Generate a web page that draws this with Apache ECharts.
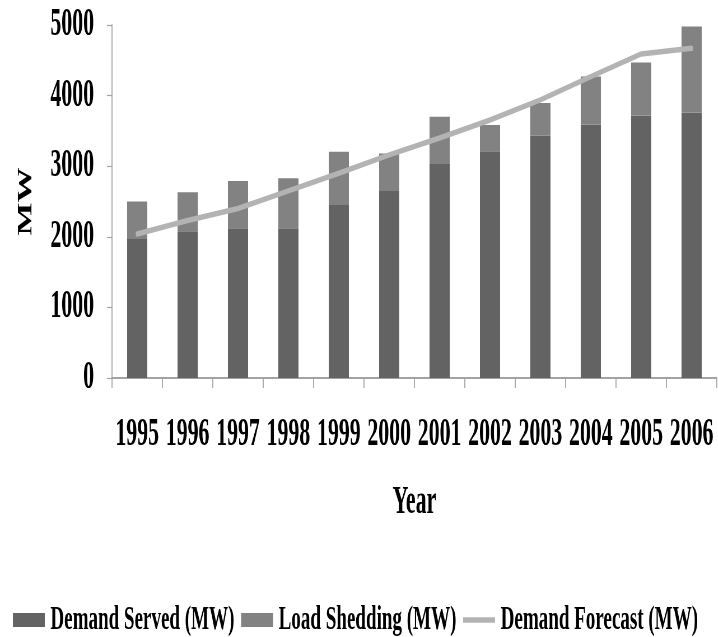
<!DOCTYPE html>
<html>
<head>
<meta charset="utf-8">
<script src="https://cdn.jsdelivr.net/npm/echarts@6/dist/echarts.min.js"></script>
<style>
  html, body { margin: 0; padding: 0; overflow: hidden; background: #fff; }
  /* The chart is laid out on a wider canvas and squeezed horizontally,
     giving the narrow, tall lettering of the printed figure. */
  #chart { width: 1282px; height: 637px; transform: scaleX(0.56); transform-origin: 0 0; }
</style>
</head>
<body>
<div id="chart"></div>
<script>
const years = ['1995', '1996', '1997', '1998', '1999', '2000', '2001', '2002', '2003', '2004', '2005', '2006'];
const demandServed = [1970, 2080, 2120, 2120, 2450, 2650, 3030, 3210, 3430, 3590, 3715, 3760];
const loadShedding = [530, 550, 670, 710, 755, 530, 670, 375, 465, 680, 755, 1220];
const demandForecast = [2040, 2230, 2400, 2650, 2900, 3160, 3400, 3655, 3940, 4270, 4590, 4670];
const yTicks = { min: 0, max: 5000, interval: 1000 };

const FONT = 'Liberation Serif';
const AXIS_GREY = '#a3a3a3';

const chart = echarts.init(document.getElementById('chart'), null, { renderer: 'canvas' });

chart.setOption({
  backgroundColor: '#ffffff',
  animation: false,
  textStyle: { fontFamily: FONT, color: '#000' },
  grid: { left: 200, right: 2, top: 25, bottom: 259, containLabel: false },
  legend: {
    left: 23,
    top: 603,
    padding: 0,
    itemGap: 12,
    itemWidth: 57,
    itemHeight: 14,
    textStyle: { fontFamily: FONT, fontSize: 34, fontWeight: 'bold', color: '#000', padding: [0, 0, 0, 5] },
    data: [
      { name: 'Demand Served (MW)', icon: 'rect' },
      { name: 'Load Shedding (MW)', icon: 'rect' },
      { name: 'Demand Forecast (MW)', icon: 'path://M0,0 L60,0 L60,6 L0,6 Z' }
    ]
  },
  xAxis: {
    type: 'category',
    data: years,
    name: 'Year',
    nameLocation: 'middle',
    nameGap: 105,
    nameTextStyle: { fontFamily: FONT, fontSize: 39, fontWeight: 'bold', color: '#000' },
    axisLine: { show: true, lineStyle: { color: AXIS_GREY, width: 1.8 } },
    axisTick: { show: true, length: 10, lineStyle: { color: AXIS_GREY, width: 1.8 } },
    axisLabel: { interval: 0, margin: 37, fontFamily: FONT, fontSize: 39, fontWeight: 'bold', color: '#000' },
    splitLine: { show: false }
  },
  yAxis: {
    type: 'value',
    min: yTicks.min,
    max: yTicks.max,
    interval: yTicks.interval,
    name: 'MW',
    nameLocation: 'middle',
    nameGap: 136,
    nameTextStyle: { fontFamily: FONT, fontSize: 35, fontWeight: 'bold', color: '#000' },
    axisLine: { show: true, lineStyle: { color: AXIS_GREY, width: 1.8 } },
    axisTick: { show: true, length: 9, lineStyle: { color: AXIS_GREY, width: 1.2 } },
    axisLabel: {
      margin: 32, fontFamily: FONT, fontSize: 39, fontWeight: 'bold', color: '#000',
      formatter: (v) => String(v)
    },
    splitLine: { show: false }
  },
  series: [
    {
      name: 'Demand Served (MW)',
      type: 'bar',
      stack: 'load',
      barWidth: 36,
      itemStyle: { color: '#636363' },
      data: demandServed
    },
    {
      name: 'Load Shedding (MW)',
      type: 'bar',
      stack: 'load',
      barWidth: 36,
      itemStyle: { color: '#828282' },
      data: loadShedding
    },
    {
      name: 'Demand Forecast (MW)',
      type: 'line',
      showSymbol: false,
      symbol: 'none',
      itemStyle: { color: '#b3b3b3' },
      lineStyle: { color: '#b3b3b3', width: 5.5, cap: 'round', join: 'round' },
      data: demandForecast
    }
  ]
});
</script>
</body>
</html>
